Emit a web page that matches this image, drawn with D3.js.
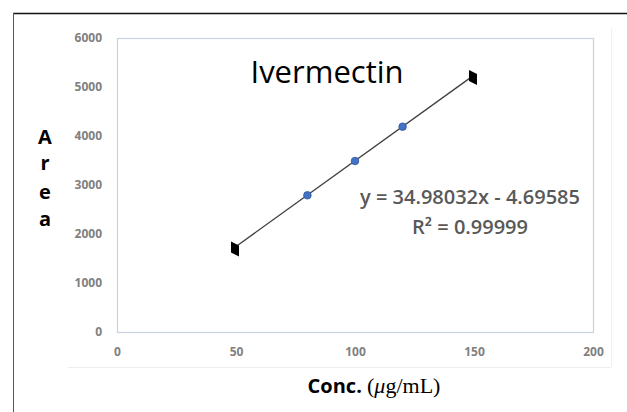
<!DOCTYPE html>
<html>
<head>
<meta charset="utf-8">
<script src="https://cdn.jsdelivr.net/npm/d3@7"></script>
<style>
  html, body { margin: 0; padding: 0; background: #fff; }
  svg { display: block; }
</style>
</head>
<body>
<div id="chart"></div>
<script>
(function () {
    // measured standards
    const concs = [80, 100, 120];
    const areas = [2790, 3490, 4190];
    // fitted trend line endpoints
    const trendX = [50, 150];
    const slope = 34.98032;
    const intercept = -4.69585;
    const xTicks = [0, 50, 100, 150, 200];
    const yTicks = [0, 1000, 2000, 3000, 4000, 5000, 6000];
    const yLabelLetters = ["A", "r", "e", "a"];

    const width = 627, height = 412;
    const svg = d3.select("#chart").append("svg")
        .attr("width", width)
        .attr("height", height);

    // frame lines of the cropped figure
    svg.append("line").attr("x1", 13).attr("x2", 627).attr("y1", 13.5).attr("y2", 13.5)
        .attr("stroke", "#111").attr("stroke-width", 1.5);
    svg.append("line").attr("x1", 13.5).attr("x2", 13.5).attr("y1", 13).attr("y2", height)
        .attr("stroke", "#555").attr("stroke-width", 1);
    // faint chart-area edges
    svg.append("line").attr("x1", 68).attr("x2", 611).attr("y1", 367.5).attr("y2", 367.5)
        .attr("stroke", "#eeeeee");
    svg.append("line").attr("x1", 611.5).attr("x2", 611.5).attr("y1", 28).attr("y2", 367)
        .attr("stroke", "#f0f0f0");

    const plot = { left: 117, right: 593, top: 38, bottom: 332 };
    const x = d3.scaleLinear().domain([0, 200]).range([plot.left, plot.right]);
    const y = d3.scaleLinear().domain([0, 6000]).range([plot.bottom, plot.top]);

    svg.append("rect")
        .attr("x", plot.left + 0.5).attr("y", plot.top + 0.5)
        .attr("width", plot.right - plot.left).attr("height", plot.bottom - plot.top)
        .attr("fill", "#fff").attr("stroke", "#c9d1e3").attr("stroke-width", 1.2);

    const tickFont = "bold 12px 'Open Sans', sans-serif";

    const xAxisG = svg.append("g").attr("transform", `translate(0,${plot.bottom})`)
        .call(d3.axisBottom(x).tickValues(xTicks).tickSize(0).tickPadding(15).tickFormat(d3.format("d")));
    const yAxisG = svg.append("g").attr("transform", `translate(${plot.left - 15},0)`)
        .call(d3.axisLeft(y).tickValues(yTicks).tickSize(0).tickPadding(0).tickFormat(d3.format("d")));
    [xAxisG, yAxisG].forEach(g => {
        g.select(".domain").remove();
        g.selectAll("text").style("font", tickFont).attr("fill", "#808080");
    });

    // trend line
    const line = d3.line().x(d => x(d)).y(d => y(slope * d + intercept));
    svg.append("path").datum(trendX)
        .attr("d", line)
        .attr("fill", "none").attr("stroke", "#404040").attr("stroke-width", 1.3);

    // end caps of the trend line
    svg.selectAll("path.cap").data(trendX).enter().append("path")
        .attr("class", "cap")
        .attr("d", "M-4,-7 L4,-3 L4,8 L-4,4 Z")
        .attr("transform", d => `translate(${x(d) - 1},${y(slope * d + intercept) + 2})`)
        .attr("fill", "#000");

    // data points
    svg.selectAll("circle.pt").data(concs).enter().append("circle")
        .attr("class", "pt")
        .attr("cx", d => x(d))
        .attr("cy", (d, i) => y(areas[i]))
        .attr("r", 3.8)
        .attr("fill", "#4472c4")
        .attr("stroke", "#2f55a0").attr("stroke-width", 0.8);

    // title
    svg.append("text")
        .attr("x", 327).attr("y", 83)
        .attr("text-anchor", "middle")
        .style("font", "31px 'Open Sans', sans-serif")
        .attr("fill", "#000")
        .text("Ivermectin");

    // equation
    svg.append("text")
        .attr("x", 470).attr("y", 204)
        .attr("text-anchor", "middle")
        .style("font", "600 20px 'Open Sans', sans-serif")
        .attr("fill", "#595959")
        .text("y = 34.98032x - 4.69585");
    svg.append("text")
        .attr("x", 470).attr("y", 234)
        .attr("text-anchor", "middle")
        .style("font", "600 20px 'Open Sans', sans-serif")
        .attr("fill", "#595959")
        .text("R² = 0.99999");

    // stacked y label
    const yLetterY = [144, 170, 199, 226];
    svg.selectAll("text.ylab").data(yLabelLetters).enter().append("text")
        .attr("class", "ylab")
        .attr("x", 45).attr("y", (d, i) => yLetterY[i])
        .attr("text-anchor", "middle")
        .style("font", "bold 20px 'Open Sans', sans-serif")
        .attr("fill", "#000")
        .text(d => d);

    // x title
    const xt = svg.append("text")
        .attr("x", 374).attr("y", 393)
        .attr("text-anchor", "middle")
        .attr("fill", "#000");
    xt.append("tspan").style("font", "bold 20px 'Open Sans', sans-serif").text("Conc. ");
    xt.append("tspan").style("font", "22px 'Liberation Serif', serif").text("(");
    xt.append("tspan").style("font", "italic 22px 'Liberation Serif', serif").text("μ");
    xt.append("tspan").style("font", "22px 'Liberation Serif', serif").text("g/mL)");
})();
</script>
</body>
</html>
